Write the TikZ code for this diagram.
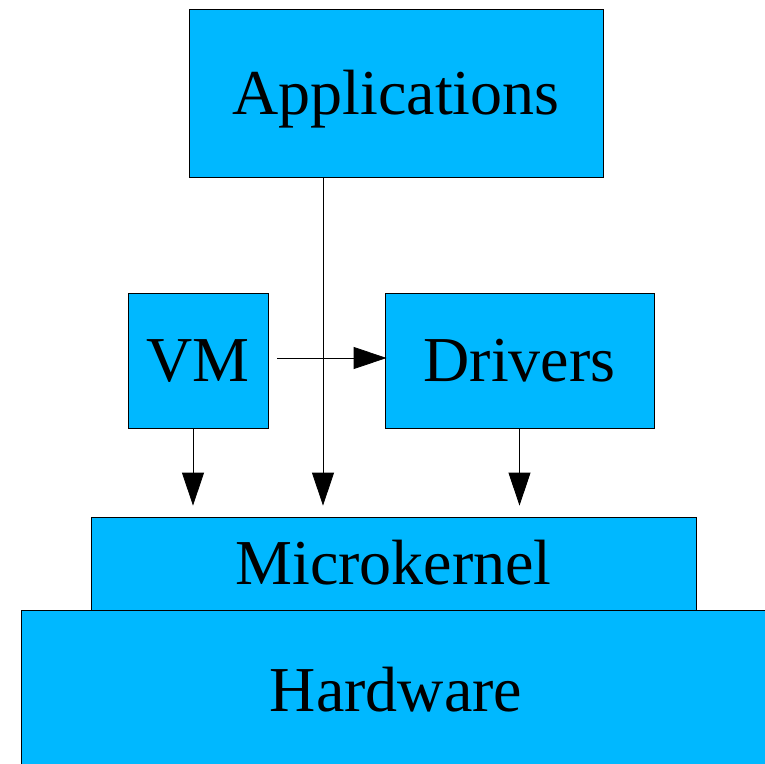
\documentclass[tikz,border=0pt]{standalone}
\usepackage{fontspec}
\setmainfont{Liberation Serif}
\usetikzlibrary{arrows.meta}
\definecolor{boxblue}{RGB}{0,184,255}
\begin{document}
\begin{tikzpicture}[x=1pt,y=-1pt,
  box/.style={draw=black, line width=0.8pt, fill=boxblue, inner sep=0pt,
    font=\fontsize{64}{64}\selectfont, text height=42pt, text depth=0pt},
  arr/.style={-{Triangle[length=33pt,width=22pt]}, line width=0.8pt}]
\useasboundingbox (0,0) rectangle (765,763);
\node[box, minimum width=414pt, minimum height=168pt] (app) at (396,93) {Applications};
\node[box, minimum width=140pt, minimum height=135pt] (vm) at (198,360.5) {VM};
\node[box, minimum width=269pt, minimum height=135pt] (drv) at (519.5,360.5) {Drivers};
\node[box, minimum width=750pt, minimum height=160pt] (hw) at (396,690) {Hardware};
\node[box, minimum width=605pt, minimum height=93pt] (mk) at (393.5,563.5) {Microkernel};
\path ([xshift=-73pt]app.south) coordinate (a1);
\path ([xshift=-5pt]vm.south) coordinate (v1);
\path ([yshift=2.5pt]vm.east) coordinate (h1);
\draw[arr, shorten >=11pt] (a1) -- (a1 |- mk.north);
\draw[arr, shorten >=11pt] (v1) -- (v1 |- mk.north);
\draw[arr, shorten >=11pt] (drv.south) -- (drv.south |- mk.north);
\draw[arr, shorten <=9pt, shorten >=-2pt] (h1) -- (h1 -| drv.west);
\end{tikzpicture}
\end{document}
